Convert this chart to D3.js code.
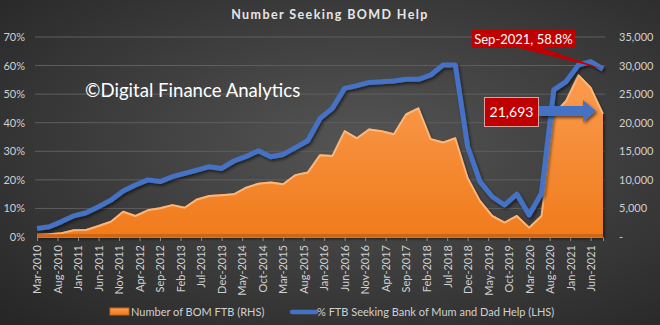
<!DOCTYPE html>
<html><head><meta charset="utf-8">
<script src="https://cdn.jsdelivr.net/npm/d3@7"></script>
<style>
html,body{margin:0;padding:0;background:#333;}
svg{display:block;font-family:Lato,"Open Sans",sans-serif;}
</style></head>
<body>
<svg id="chart" width="660" height="325"></svg>
<script>
// ---- data (quarterly, Mar-2010 .. Sep-2021) ----
const quarters = ["Mar-2010","Jun-2010","Sep-2010","Dec-2010","Mar-2011","Jun-2011","Sep-2011","Dec-2011",
 "Mar-2012","Jun-2012","Sep-2012","Dec-2012","Mar-2013","Jun-2013","Sep-2013","Dec-2013",
 "Mar-2014","Jun-2014","Sep-2014","Dec-2014","Mar-2015","Jun-2015","Sep-2015","Dec-2015",
 "Mar-2016","Jun-2016","Sep-2016","Dec-2016","Mar-2017","Jun-2017","Sep-2017","Dec-2017",
 "Mar-2018","Jun-2018","Sep-2018","Dec-2018","Mar-2019","Jun-2019","Sep-2019","Dec-2019",
 "Mar-2020","Jun-2020","Sep-2020","Dec-2020","Mar-2021","Jun-2021","Sep-2021"];
const pctSeeking = [3.0,3.6,5.4,7.4,8.5,10.6,12.9,16.1,18.2,20.0,19.4,21.1,22.3,23.4,24.6,24.0,
 26.6,28.2,30.2,28.1,28.9,31.3,33.7,41.5,45.0,52.0,53.0,54.1,54.3,54.6,55.2,55.2,
 56.7,60.2,60.2,31.6,19.4,14.1,11.2,15.0,7.7,15.3,51.5,54.4,60.2,61.4,58.8];
const bomCount = [550,650,850,1350,1400,2100,2850,4600,3850,4850,5200,5750,5300,6750,7350,7500,
 7650,8800,9500,9700,9400,11000,11450,14500,14350,18700,17450,19000,18700,18150,21650,22700,
 17300,16700,17450,10500,6500,3850,2700,3850,1800,3850,21650,24000,28500,26300,21693];
const xTickLabels = ["Mar-2010","Aug-2010","Jan-2011","Jun-2011","Nov-2011","Apr-2012","Sep-2012",
 "Feb-2013","Jul-2013","Dec-2013","May-2014","Oct-2014","Mar-2015","Aug-2015","Jan-2016","Jun-2016",
 "Nov-2016","Apr-2017","Sep-2017","Feb-2018","Jul-2018","Dec-2018","May-2019","Oct-2019","Mar-2020",
 "Aug-2020","Jan-2021","Jun-2021"];
const leftTicks = [0,10,20,30,40,50,60,70];
const rightTicks = [0,5000,10000,15000,20000,25000,30000,35000];
const titleText = "Number Seeking BOMD Help";
const watermark = "©Digital Finance Analytics";
const calloutPct = "Sep-2021, 58.8%";
const calloutCount = "21,693";
const legendArea = "Number of BOM FTB (RHS)";
const legendLine = "% FTB Seeking Bank of Mum and Dad Help (LHS)";

// month index for each quarter (0 = Mar-2010)
const data = quarters.map((q,i)=>({q, m:i*3, pct:pctSeeking[i], cnt:bomCount[i]}));

const svg = d3.select("#chart");
const W=660,H=325;
const defs = svg.append("defs");
const bg = defs.append("radialGradient").attr("id","bg").attr("cx","55%").attr("cy","45%").attr("r","75%");
bg.append("stop").attr("offset","0%").attr("stop-color","#555555");
bg.append("stop").attr("offset","100%").attr("stop-color","#272727");
const og = defs.append("linearGradient").attr("id","og").attr("x1",0).attr("x2",0).attr("y1",0).attr("y2",1);
og.append("stop").attr("offset","0%").attr("stop-color","#fa9c4e");
og.append("stop").attr("offset","100%").attr("stop-color","#f07b1c");
const sh = defs.append("filter").attr("id","sh").attr("x","-10%").attr("y","-10%").attr("width","130%").attr("height","130%");
sh.append("feDropShadow").attr("dx",1.5).attr("dy",2).attr("stdDeviation",1.8).attr("flood-color","#000").attr("flood-opacity",0.55);

svg.append("rect").attr("width",W).attr("height",H).attr("fill","url(#bg)");

const x = d3.scaleLinear().domain([0,138]).range([37,603]);
const yL = d3.scaleLinear().domain([0,70]).range([237,37]);
const yR = d3.scaleLinear().domain([0,35000]).range([237,37]);

// gridlines
svg.append("g").selectAll("line").data(leftTicks.slice(1)).join("line")
  .attr("x1",35).attr("x2",605).attr("y1",d=>yL(d)).attr("y2",d=>yL(d))
  .attr("stroke","#5f5f5f").attr("stroke-width",1);

// left axis
const gl = svg.append("g").attr("transform","translate(27,0)")
  .call(d3.axisLeft(yL).tickValues(leftTicks).tickFormat(d=>d+"%").tickSize(0).tickPadding(2));
gl.select(".domain").remove();
gl.selectAll("text").attr("fill","#d0d0d0").attr("font-size",11).attr("font-family","Lato,sans-serif");

// right axis
const gr = svg.append("g").attr("transform","translate(617,0)")
  .call(d3.axisRight(yR).tickValues(rightTicks).tickFormat(d=>d===0?"-":d3.format(",")(d)).tickSize(0).tickPadding(2));
gr.select(".domain").remove();
gr.selectAll("text").attr("fill","#d0d0d0").attr("font-size",11).attr("font-family","Lato,sans-serif");

// area
const area = d3.area().x(d=>x(d.m)).y0(yR(0)).y1(d=>yR(d.cnt));
svg.append("path").datum(data).attr("d",area).attr("fill","url(#og)").attr("filter","url(#sh)");
const topLine = d3.line().x(d=>x(d.m)).y(d=>yR(d.cnt)+1);
svg.append("path").datum(data).attr("d",topLine).attr("fill","none")
  .attr("stroke","#fbbd85").attr("stroke-width",2).attr("stroke-linejoin","round").attr("opacity",0.9);
svg.append("rect").attr("x",x(0)).attr("y",yR(0)-3).attr("width",x(138)-x(0)).attr("height",3).attr("fill","#c95f10").attr("opacity",0.8);

// x axis
const gx = svg.append("g").attr("transform",`translate(0,${yR(0)})`)
  .call(d3.axisBottom(x).tickValues(xTickLabels.map((d,i)=>i*5)).tickFormat((d,i)=>xTickLabels[i]).tickSize(4));
gx.select(".domain").attr("stroke","#8a8a8a");
gx.selectAll(".tick line").attr("stroke","#8a8a8a");
gx.selectAll("text").attr("fill","#d0d0d0").attr("font-size",11).attr("font-family","Lato,sans-serif")
  .attr("transform","rotate(-90)").attr("text-anchor","end").attr("x",-8).attr("y",0).attr("dy","0.35em");

// line
const line = d3.line().x(d=>x(d.m)).y(d=>yL(d.pct));
svg.append("path").datum(data).attr("d",line).attr("fill","none")
  .attr("stroke","#4472c4").attr("stroke-width",5).attr("stroke-linejoin","round").attr("filter","url(#sh)");

// title
svg.append("text").attr("x",330).attr("y",19).attr("text-anchor","middle").attr("fill","#e6e6e6")
  .attr("font-size",12.5).attr("font-weight","bold").attr("letter-spacing",1.4).text(titleText);

// watermark
svg.append("text").attr("x",85).attr("y",97).attr("fill","#ffffff").attr("font-size",18.6).text(watermark);

// callout 1 (Sep-2021, 58.8%)
const last = data[data.length-1];
const px = x(last.m), py = yL(last.pct);
svg.append("path").attr("d",`M515,47 L540,47 L${px},${py} Z`).attr("fill","#c00000");
svg.append("rect").attr("x",472).attr("y",30).attr("width",103).attr("height",18).attr("fill","#c00000");
svg.append("text").attr("x",523.5).attr("y",44).attr("text-anchor","middle").attr("fill","#fff")
  .attr("font-size",13).text(calloutPct);

// callout 2 (21,693) with blue arrow
const ay = 111;
svg.append("path").attr("d",`M539,${ay-5} L583,${ay-5} L583,${ay-11} L596,${ay} L583,${ay+11} L583,${ay+5} L539,${ay+5} Z`)
  .attr("fill","#4472c4").attr("filter","url(#sh)");
svg.append("rect").attr("x",484.5).attr("y",97.5).attr("width",54).attr("height",29).attr("fill","#c00000")
  .attr("stroke","#d9a3a3").attr("stroke-width",1);
svg.append("text").attr("x",511.5).attr("y",117).attr("text-anchor","middle").attr("fill","#fff")
  .attr("font-size",14).text(calloutCount);

// legend
svg.append("rect").attr("x",110).attr("y",308).attr("width",19).attr("height",7).attr("fill","url(#og)")
  .attr("stroke","#c86414").attr("stroke-width",1);
svg.append("text").attr("x",131).attr("y",316).attr("fill","#d0d0d0").attr("font-size",11).text(legendArea);
svg.append("line").attr("x1",292).attr("x2",316).attr("y1",312).attr("y2",312).attr("stroke","#4472c4").attr("stroke-width",4.5).attr("stroke-linecap","round");
svg.append("text").attr("x",317).attr("y",316).attr("fill","#d0d0d0").attr("font-size",11).text(legendLine);
</script>
</body></html>
